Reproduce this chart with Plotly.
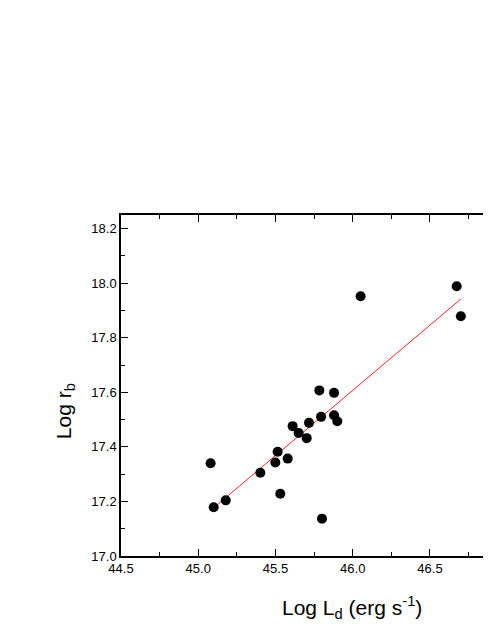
import plotly.graph_objects as go

log_Ld = [46.051, 46.673, 46.70, 45.784, 45.879, 45.080, 45.100, 45.178, 45.402,
          45.499, 45.514, 45.531, 45.579, 45.611, 45.650, 45.702, 45.717, 45.795,
          45.801, 45.879, 45.900]
log_rb = [17.952, 17.989, 17.879, 17.607, 17.598, 17.340, 17.179, 17.204, 17.305,
          17.343, 17.382, 17.228, 17.357, 17.476, 17.451, 17.432, 17.488, 17.510,
          17.137, 17.516, 17.494]

fit_x = [45.08, 46.70]
fit_y = [17.167, 17.942]

x_ticks = [44.5, 45.0, 45.5, 46.0, 46.5]
x_ticklabels = ["44.5", "45.0", "45.5", "46.0", "46.5"]
y_ticks = [17.0, 17.2, 17.4, 17.6, 17.8, 18.0, 18.2]
y_ticklabels = ["17.0", "17.2", "17.4", "17.6", "17.8", "18.0", "18.2"]

fig = go.Figure()
fig.add_trace(go.Scatter(x=fit_x, y=fit_y, mode="lines",
                         line=dict(color="#ff2020", width=1), showlegend=False))
fig.add_trace(go.Scatter(x=log_Ld, y=log_rb, mode="markers",
                         marker=dict(color="black", size=10), showlegend=False))

font = "Liberation Sans, Arial, sans-serif"
fig.update_layout(
    width=483, height=627,
    margin=dict(l=113, r=0, t=207, b=79),
    plot_bgcolor="white", paper_bgcolor="white",
    font=dict(family=font, color="black"),
    xaxis=dict(range=[44.5, 46.895], tickvals=x_ticks, ticktext=x_ticklabels,
               showgrid=False, zeroline=False, showline=True, linecolor="black",
               linewidth=1.5, mirror="ticks", ticks="inside", ticklen=7,
               tickwidth=1.3, tickcolor="black", tickfont=dict(size=13, family=font),
               minor=dict(ticks="inside", ticklen=4, dtick=0.25, tick0=44.5,
                          tickcolor="black", tickwidth=1.3, showgrid=False)),
    yaxis=dict(range=[17.0, 18.25], tickvals=y_ticks, ticktext=y_ticklabels,
               showgrid=False, zeroline=False, showline=True, linecolor="black",
               linewidth=1.5, ticks="inside", ticklen=7, tickwidth=1.3,
               tickcolor="black", tickfont=dict(size=13, family=font),
               minor=dict(ticks="inside", ticklen=4, dtick=0.1, tick0=17.0,
                          tickcolor="black", tickwidth=1.3, showgrid=False)),
    annotations=[
        dict(text="Log L<sub>d</sub> (erg s<sup>-1</sup>)", xref="paper", yref="paper",
             x=0.624, y=-0.152, xanchor="center", yanchor="middle", showarrow=False,
             font=dict(size=21, family=font, color="black")),
        dict(text="Log r<sub>b</sub>", xref="paper", yref="paper",
             x=-0.151, y=0.425, xanchor="center", yanchor="middle", showarrow=False,
             textangle=-90, font=dict(size=21, family=font, color="black")),
    ],
)

fig.write_html("out.html")
